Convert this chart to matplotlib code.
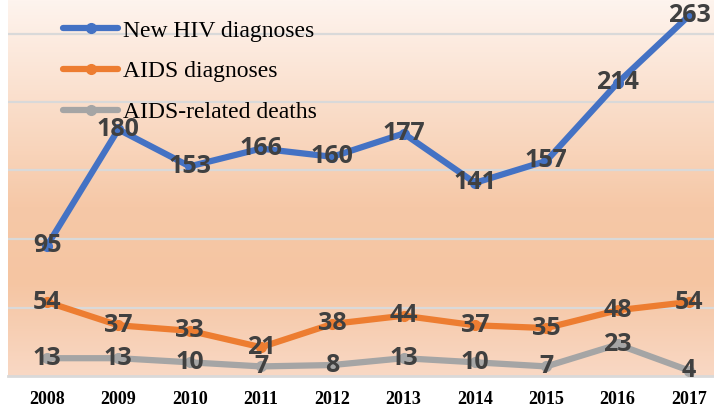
import matplotlib
matplotlib.use("Agg")
import matplotlib.pyplot as plt
import numpy as np
from matplotlib.colors import LinearSegmentedColormap

years = ["2008", "2009", "2010", "2011", "2012", "2013", "2014", "2015", "2016", "2017"]
new_hiv = [95, 180, 153, 166, 160, 177, 141, 157, 214, 263]
aids_diag = [54, 37, 33, 21, 38, 44, 37, 35, 48, 54]
aids_deaths = [13, 13, 10, 7, 8, 13, 10, 7, 23, 4]
series_names = ["New HIV diagnoses", "AIDS diagnoses", "AIDS-related deaths"]
colors = ["#4472C4", "#ED7D31", "#A5A5A5"]

W, H = 714, 404
fig = plt.figure(figsize=(W / 100, H / 100), dpi=100)
fig.patch.set_facecolor("white")

left_px, bottom_px = 8, 376
ax = fig.add_axes([left_px / W, (H - bottom_px) / H, (W - left_px) / W, bottom_px / H])
x = np.arange(len(years))
px_per_unit = (689 - 47) / 9
x0 = -(47 - left_px) / px_per_unit
x1 = 9 + (W - 689) / px_per_unit
ax.set_xlim(x0, x1)
ymax = bottom_px / 1.37
ax.set_ylim(0, ymax)

# gradient background
cmap = LinearSegmentedColormap.from_list(
    "bg",
    [(0.0, (249/255, 216/255, 196/255)),
     (0.25, (245/255, 197/255, 162/255)),
     (0.45, (246/255, 200/255, 167/255)),
     (1.0, (254/255, 244/255, 238/255))])
grad = np.linspace(0, 1, 256).reshape(-1, 1)
ax.imshow(grad, cmap=cmap, aspect="auto", extent=[x0, x1, 0, ymax],
          origin="lower", zorder=0)

for gy in [50, 100, 150, 200, 250]:
    ax.axhline(gy, color="#D9D9D9", lw=1.6, zorder=1)
ax.axhline(0, color="#D9D9D9", lw=2.0, zorder=1, clip_on=False)

for s, c, name in zip([new_hiv, aids_diag, aids_deaths], colors, series_names):
    ax.plot(x, s, color=c, lw=4.5, marker="o", markersize=7,
            solid_capstyle="round", solid_joinstyle="round", zorder=3, label=name)
    for xi, v in zip(x, s):
        ax.text(xi, v, str(v), ha="center", va="center", fontsize=18,
                fontfamily="Open Sans", fontweight="bold", color="#404040", zorder=5)

for sp in ax.spines.values():
    sp.set_visible(False)
ax.set_yticks([])
ax.set_xticks(x)
ax.set_xticklabels(years, fontfamily="Liberation Serif", fontweight="bold",
                   fontsize=13, color="black")
ax.tick_params(axis="x", length=0, pad=11)

leg = ax.legend(loc="upper left", bbox_to_anchor=(63 / W, 1 - 20 / H),
                bbox_transform=fig.transFigure, frameon=False,
                prop={"family": "Liberation Serif", "size": 17},
                handlelength=2.35, handletextpad=0.2, labelspacing=0.82,
                borderpad=0, borderaxespad=0)
leg.set_zorder(6)

fig.savefig("out.png", dpi=100)
